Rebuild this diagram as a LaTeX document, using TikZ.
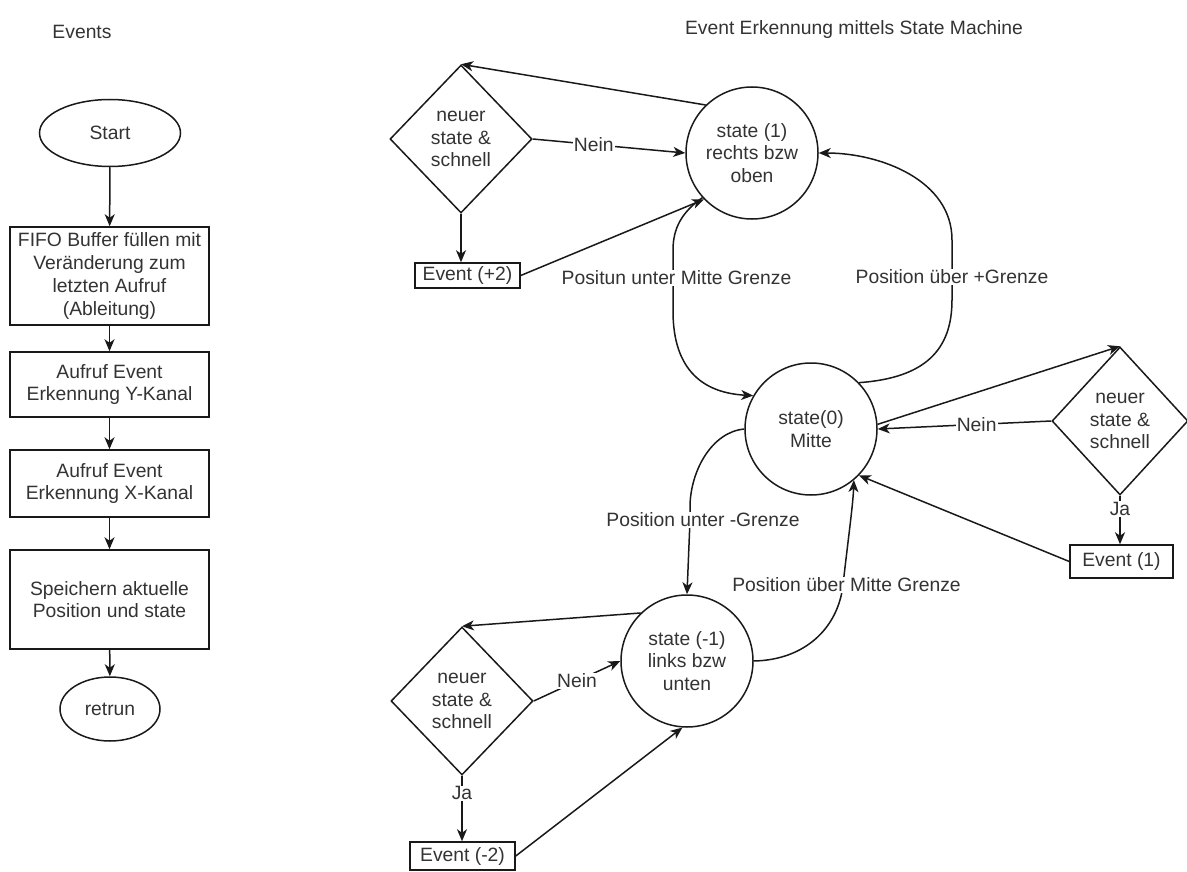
\documentclass[tikz,border=0pt]{standalone}
\usepackage{fontspec}
\setmainfont{Liberation Sans}
\usetikzlibrary{arrows.meta,shapes.geometric}
\begin{document}
\begin{tikzpicture}[x=1pt,y=-1pt,
  every node/.style={font=\fontsize{19.3}{22.7}\selectfont, text=black!80, align=center, inner sep=0pt},
  ln/.style={draw=black!90, line width=1.5pt},
  arr/.style={ln, -{Stealth[length=12pt,width=10pt,inset=3.5pt]}},
  proc/.style={draw=black!90, line width=1.5pt, rectangle, minimum width=199pt},
  term/.style={draw=black!90, line width=1.5pt, ellipse},
  stat/.style={draw=black!90, line width=1.5pt, circle, minimum size=132pt},
  cond/.style={draw=black!90, line width=1.5pt, diamond, minimum width=142pt, minimum height=148pt},
  evbox/.style={draw=black!90, line width=1.5pt, rectangle, minimum width=105pt},
  lbl/.style={fill=white, inner sep=1pt}
]
\useasboundingbox (0,0) rectangle (1187,872);

% ---------- flow chart: Events ----------
\node (evtitle) at (82,32) {Events};
\node[term, minimum width=141pt, minimum height=67pt] (start) at (110,133) {Start};
\node[proc, minimum height=98pt] (fifo) at (109.5,276) {FIFO Buffer füllen mit\\Veränderung zum\\letzten Aufruf\\(Ableitung)};
\node[proc, minimum height=65pt] (ykan) at (109.5,384.5) {Aufruf Event\\Erkennung Y-Kanal};
\node[proc, minimum height=67pt] (xkan) at (109.5,483.5) {Aufruf Event\\Erkennung X-Kanal};
\node[proc, minimum height=99pt] (store) at (109.5,599.5) {Speichern aktuelle\\Position und state};
\node[term, minimum width=100pt, minimum height=64pt] (ret) at (110,709) {retrun};

\draw[arr] (start) -- (fifo);
\draw[arr] (fifo) -- (ykan);
\draw[arr] (ykan) -- (xkan);
\draw[arr] (xkan) -- (store);
\draw[arr] (store) -- (ret);

% ---------- state machine ----------
\node (smtitle) at (854,30) {Event Erkennung mittels State Machine};

\node[stat] (s1) at (752,153) {state (1)\\rechts bzw\\oben};
\node[stat] (s0) at (811,429) {state(0)\\Mitte};
\node[stat] (sm1) at (687,661) {state (-1)\\links bzw\\unten};

\node[cond] (d1) at (461,139) {neuer\\state \&\\schnell};
\node[cond, minimum width=136pt] (d2) at (1120,421) {neuer\\state \&\\schnell};
\node[cond] (d3) at (462,701) {neuer\\state \&\\schnell};

\node[evbox, minimum height=25pt] (ep2) at (467.5,275.5) {Event (+2)};
\node[evbox, minimum width=103pt, minimum height=33pt] (ep1) at (1121.5,561.5) {Event (1)};
\node[evbox, minimum height=28pt] (em2) at (462.5,856) {Event (-2)};

% upper state
\draw[arr] (s1.134) -- (d1.north);
\draw[arr] (d1.east) -- node[lbl, pos=0.4] {Nein} (s1.west);
\draw[arr] (d1.south) -- (d1.south |- ep2.north);
\draw[arr] (ep2.east) -- (s1.224);

% middle state
\draw[arr] (s0.4) -- (d2.north);
\draw[arr] (d2.west) -- node[lbl, pos=0.43] {Nein} (s0.east);
\draw[arr] (d2.south) -- node[lbl, pos=0.27] {Ja} (d2.south |- ep1.north);
\draw[arr] (ep1.west) -- (s0.316);

% lower state
\draw[arr] (sm1.134) -- (d3.north);
\draw[arr] (d3.east) -- node[lbl] {Nein} (sm1.west);
\draw[arr] (d3.south) -- node[lbl, pos=0.27] {Ja} (d3.south |- em2.north);
\draw[arr] (em2.east) -- (sm1.266);

% transitions between the states
\draw[arr] (s1.222) .. controls (682,212) and (673,228) .. (673,250)
  -- (673,278) node[lbl, xshift=3.5pt] {Positun unter Mitte Grenze}
  -- (673,311) .. controls (673,372) and (705,393) .. (s0.150);
\draw[arr] (s0.44) .. controls (925,378) and (952,350) .. (952,300)
  -- (952,277) node[lbl] {Position über +Grenze}
  -- (952,240) .. controls (952,180) and (880,153) .. (s1.east);
\draw[arr] (s0.west) .. controls (712,432) and (691,470) .. (690,505)
  -- (690,520) node[lbl, xshift=13pt] {Position unter -Grenze}
  -- (sm1.north);
\draw[arr] (sm1.east) .. controls (805,660) and (838,628) .. (843,585)
  node[lbl, xshift=3.5pt] {Position über Mitte Grenze}
  .. controls (848,540) and (853,505) .. (s0.310);
\end{tikzpicture}
\end{document}
